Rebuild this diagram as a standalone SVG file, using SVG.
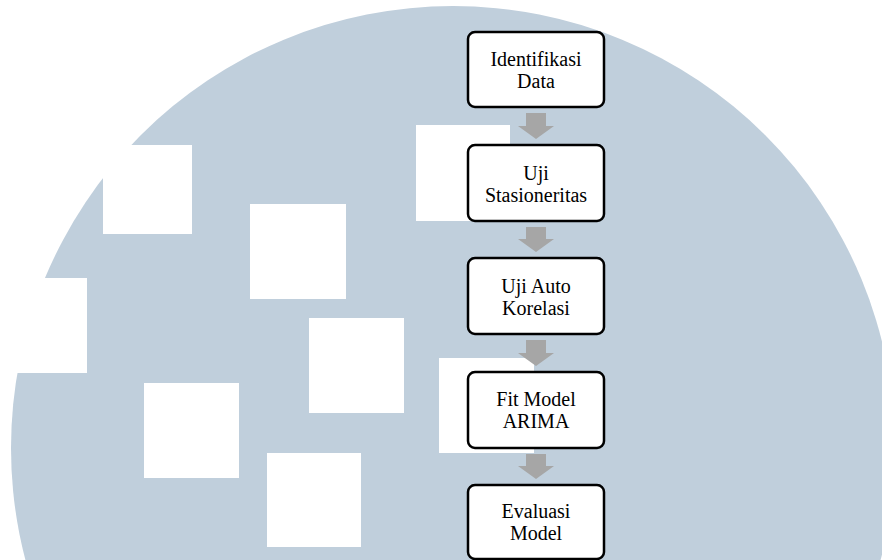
<svg xmlns="http://www.w3.org/2000/svg" width="882" height="560" viewBox="0 0 882 560">
<style>
.bg{fill:#c0cfdc}
.sq{fill:#ffffff}
.box{fill:#ffffff;stroke:#000000;stroke-width:2.5}
.arr{fill:#a6a6a6}
.t{font-size:20px;fill:#000000;text-anchor:middle}
</style>
<rect x="0" y="0" width="882" height="560" fill="#ffffff"/>
<g id="background">
<circle class="bg" cx="453" cy="448" r="442"/>
<rect class="sq" x="103" y="145" width="89" height="89"/>
<rect class="sq" x="250" y="204" width="96" height="95"/>
<rect class="sq" x="0" y="278" width="87" height="95"/>
<rect class="sq" x="144" y="383" width="95" height="95"/>
<rect class="sq" x="309" y="318" width="95" height="95"/>
<rect class="sq" x="267" y="453" width="94" height="94"/>
<rect class="sq" x="416" y="125" width="94" height="96"/>
<rect class="sq" x="439" y="358" width="95" height="95"/>
</g>
<g id="connectors">
<path class="arr" d="M526,113 H546 V126 H554 L536,139 L518,126 H526 Z"/>
<path class="arr" d="M526,227 H546 V239 H554 L536,252 L518,239 H526 Z"/>
<path class="arr" d="M526,340 H546 V353 H554 L536,366 L518,353 H526 Z"/>
<path class="arr" d="M526,454 H546 V466 H554 L536,479 L518,466 H526 Z"/>
</g>
<g font-family="Liberation Serif, Times New Roman, serif">
<g id="n1">
<rect class="box" x="468" y="32" width="136" height="75" rx="7"/>
<text class="t" x="536" y="66">Identifikasi</text>
<text class="t" x="536" y="88">Data</text>
</g>
<g id="n2">
<rect class="box" x="468" y="145" width="136" height="76" rx="7"/>
<text class="t" x="536" y="180">Uji</text>
<text class="t" x="536" y="202">Stasioneritas</text>
</g>
<g id="n3">
<rect class="box" x="468" y="258" width="136" height="76" rx="7"/>
<text class="t" x="536" y="293">Uji Auto</text>
<text class="t" x="536" y="315">Korelasi</text>
</g>
<g id="n4">
<rect class="box" x="468" y="372" width="136" height="76" rx="7"/>
<text class="t" x="536" y="406">Fit Model</text>
<text class="t" x="536" y="428">ARIMA</text>
</g>
<g id="n5">
<rect class="box" x="468" y="485" width="136" height="74" rx="7"/>
<text class="t" x="536" y="518">Evaluasi</text>
<text class="t" x="536" y="540">Model</text>
</g>
</g>
</svg>
